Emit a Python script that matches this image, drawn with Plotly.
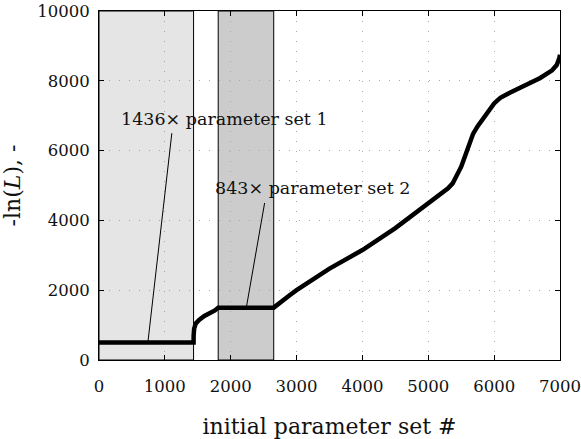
import plotly.graph_objects as go

# ---- data ----
curve_x = [1, 1436, 1437, 1445, 1470, 1520, 1600, 1700, 1760, 1810, 2653,
           2900, 3000, 3500, 4000, 4500, 4760, 5000, 5200, 5300, 5370, 5450,
           5500, 5560, 5620, 5680, 5750, 5850, 5920, 6000, 6050, 6100, 6230,
           6400, 6700, 6880, 6950, 6990, 7000]
curve_y = [500, 500, 700, 900, 1050, 1150, 1260, 1340, 1420, 1500, 1500,
           1860, 2000, 2620, 3150, 3780, 4150, 4470, 4760, 4920, 5060, 5320,
           5540, 5850, 6200, 6480, 6700, 6970, 7170, 7350, 7440, 7520, 7650,
           7800, 8080, 8300, 8450, 8650, 8750]

shade1 = [0, 1436]
shade2 = [1810, 2653]
shade1_color = "#e5e5e5"
shade2_color = "#cccccc"

ann_texts = ["1436\u00d7 parameter set 1", "843\u00d7 parameter set 2"]
ann_text_x = [1909, 3237]
ann_text_y = [6900, 4920]
ann_line_x0 = [742, 2237]
ann_line_y0 = [500, 1500]
ann_line_x1 = [1106, 2515]
ann_line_y1 = [6500, 4500]

x_ticks = [0, 1000, 2000, 3000, 4000, 5000, 6000, 7000]
y_ticks = [0, 2000, 4000, 6000, 8000, 10000]

x_title = "initial parameter set #"
y_title = "-ln(<i>L</i>), -"

FONT = "DejaVu Serif"

fig = go.Figure()
fig.add_trace(go.Scatter(x=curve_x, y=curve_y, mode="lines",
                         line=dict(color="black", width=4.5),
                         showlegend=False, hoverinfo="skip"))

# shaded regions
for (a, b), col in [(shade1, shade1_color), (shade2, shade2_color)]:
    fig.add_shape(type="rect", xref="x", yref="y", x0=a, x1=b, y0=0, y1=10000,
                  fillcolor=col, line=dict(color="black", width=1), layer="below")

# annotation leader lines and texts
for i in range(len(ann_texts)):
    fig.add_shape(type="line", xref="x", yref="y",
                  x0=ann_line_x0[i], y0=ann_line_y0[i],
                  x1=ann_line_x1[i], y1=ann_line_y1[i],
                  line=dict(color="black", width=1), layer="above")
    fig.add_annotation(x=ann_text_x[i], y=ann_text_y[i], xref="x", yref="y",
                       text=ann_texts[i], showarrow=False,
                       xanchor="center", yanchor="middle",
                       font=dict(family=FONT, size=17.5, color="#111111"))

axis_common = dict(
    showline=True, linecolor="black", linewidth=1, mirror="ticks",
    ticks="inside", ticklen=5, tickcolor="black", tickwidth=1,
    showgrid=True, gridcolor="#a8a8a8", griddash="1px,9px", gridwidth=1,
    zeroline=False, ticklabeloverflow="allow",
    tickfont=dict(family=FONT, size=16.5, color="#111111"),
)

fig.update_xaxes(range=[0, 7000], tickvals=x_ticks,
                 ticktext=[str(v) for v in x_ticks],
                 ticklabelstandoff=11,
                 title=dict(text=x_title, standoff=26,
                            font=dict(family=FONT, size=22, color="#111111")),
                 **axis_common)
fig.update_yaxes(range=[0, 10000], tickvals=y_ticks,
                 ticktext=[str(v) for v in y_ticks],
                 ticklabelstandoff=5,
                 title=dict(text=y_title, standoff=10,
                            font=dict(family=FONT, size=22, color="#111111")),
                 **axis_common)

fig.update_layout(
    width=581, height=439,
    margin=dict(l=99, r=21, t=11, b=79, autoexpand=False),
    plot_bgcolor="white", paper_bgcolor="white",
    font=dict(family=FONT, color="#111111"),
)

fig.write_html("out.html")
